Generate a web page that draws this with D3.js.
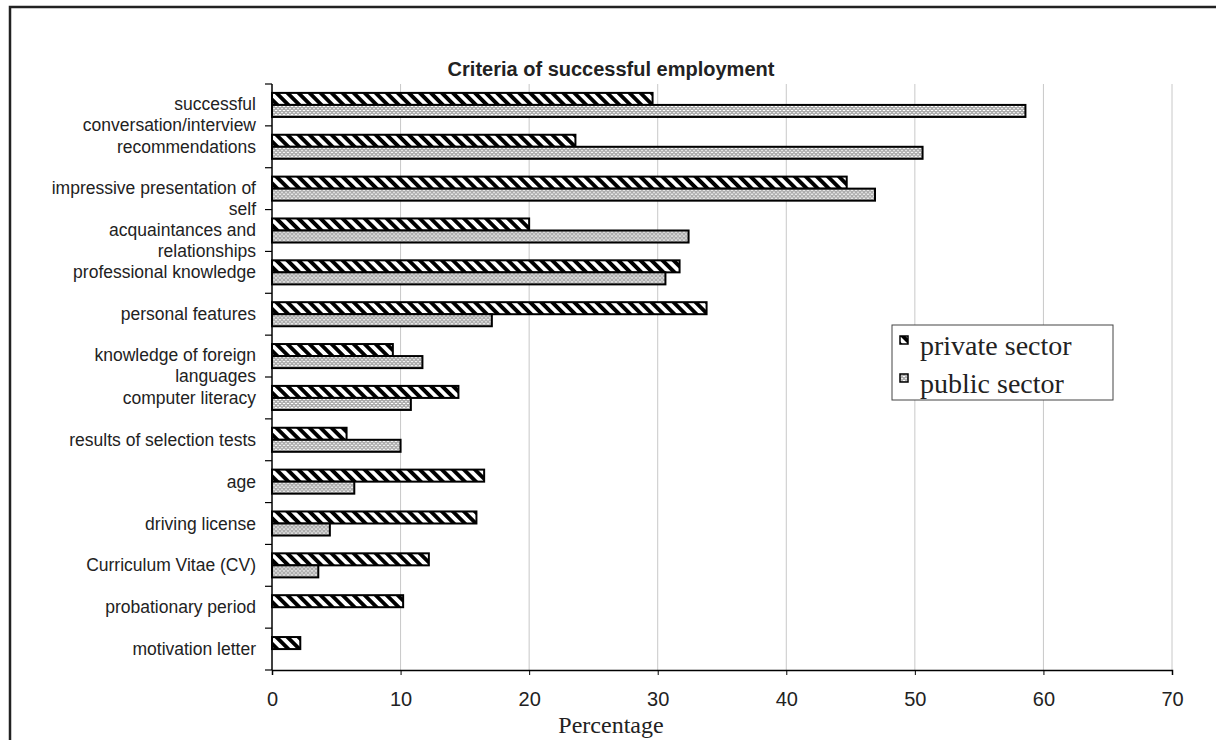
<!DOCTYPE html>
<html>
<head>
<meta charset="utf-8">
<script src="https://cdn.jsdelivr.net/npm/d3@7"></script>
<style>
  body { margin: 0; background: #fff; }
  text { font-family: "Liberation Sans", Arial, sans-serif; fill: #222; }
</style>
</head>
<body>
<div id="chart"></div>
<script>
// categories, top to bottom (\n = line break as in the original labels)
var categories = [
    "successful\nconversation/interview",
    "recommendations",
    "impressive presentation of\nself",
    "acquaintances and\nrelationships",
    "professional knowledge",
    "personal features",
    "knowledge of foreign\nlanguages",
    "computer literacy",
    "results of selection tests",
    "age",
    "driving license",
    "Curriculum Vitae (CV)",
    "probationary period",
    "motivation letter"
];

var series = ["private sector", "public sector"];

var privateValues = [29.6, 23.6, 44.7, 20.0, 31.7, 33.8, 9.4, 14.5, 5.8, 16.5, 15.9, 12.2, 10.2, 2.2];
var publicValues  = [58.6, 50.6, 46.9, 32.4, 30.6, 17.1, 11.7, 10.8, 10.0, 6.4, 4.5, 3.6, 0, 0];

var xTicks = [0, 10, 20, 30, 40, 50, 60, 70];

var W = 1216, H = 740;

var svg = d3.select("#chart")
    .append("svg")
    .attr("width", W)
    .attr("height", H);

// patterns
var defs = svg.append("defs");
var stripes = defs.append("pattern")
    .attr("id", "pat-private")
    .attr("patternUnits", "userSpaceOnUse")
    .attr("width", 7.8)
    .attr("height", 7.8)
    .attr("patternTransform", "rotate(-45)");
stripes.append("rect").attr("width", 7.8).attr("height", 7.8).attr("fill", "#fff");
stripes.append("rect").attr("width", 3.9).attr("height", 7.8).attr("fill", "#000");

var dots = defs.append("pattern")
    .attr("id", "pat-public")
    .attr("patternUnits", "userSpaceOnUse")
    .attr("width", 4)
    .attr("height", 4);
dots.append("rect").attr("width", 4).attr("height", 4).attr("fill", "#acacac");
dots.append("rect").attr("x", 1).attr("y", 0).attr("width", 2).attr("height", 1).attr("fill", "#e8e8e8");
dots.append("rect").attr("x", 0).attr("y", 2).attr("width", 1).attr("height", 1).attr("fill", "#fff");
dots.append("rect").attr("x", 3).attr("y", 2).attr("width", 1).attr("height", 1).attr("fill", "#fff");
dots.append("rect").attr("x", 1.5).attr("y", 1.5).attr("width", 1).attr("height", 1).attr("fill", "#dadada");

var fills = ["url(#pat-private)", "url(#pat-public)"];

// outer frame (runs off the right/bottom edge like the original)
svg.append("rect")
    .attr("x", 10).attr("y", 7)
    .attr("width", 1300).attr("height", 900)
    .attr("fill", "none")
    .attr("stroke", "#222")
    .attr("stroke-width", 2.5);

// title
svg.append("text")
    .attr("x", 611).attr("y", 76)
    .attr("text-anchor", "middle")
    .style("font-weight", "bold")
    .style("font-size", "20px")
    .text("Criteria of successful employment");

// scales
var x = d3.scaleLinear()
    .domain([0, 70])
    .range([272, 1172]);

var y = d3.scaleBand()
    .domain(categories)
    .range([84, 670]);

var y1 = d3.scaleBand()
    .domain(series)
    .range([0, y.bandwidth()])
    .paddingOuter(0.74);

// grid
svg.append("g")
    .selectAll("line")
    .data(xTicks.slice(1))
    .enter()
    .append("line")
    .attr("x1", function(d) { return x(d); })
    .attr("x2", function(d) { return x(d); })
    .attr("y1", 84)
    .attr("y2", 670)
    .attr("stroke", "#c8c8c8")
    .attr("stroke-width", 1);

// bars
var rows = categories.map(function(c, i) {
    return {cat: c, vals: [privateValues[i], publicValues[i]]};
});

var groups = svg.append("g")
    .selectAll("g")
    .data(rows)
    .enter()
    .append("g")
    .attr("transform", function(d) { return "translate(0," + y(d.cat) + ")"; });

groups.selectAll("rect")
    .data(function(d) {
        return d.vals.map(function(v, j) { return {s: series[j], v: v, j: j}; })
            .filter(function(e) { return e.v > 0; });
    })
    .enter()
    .append("rect")
    .attr("x", x(0))
    .attr("y", function(d) { return y1(d.s); })
    .attr("width", function(d) { return x(d.v) - x(0); })
    .attr("height", y1.bandwidth())
    .attr("fill", function(d) { return fills[d.j]; })
    .attr("stroke", "#000")
    .attr("stroke-width", 2);

// x axis
var xAxis = svg.append("g")
    .attr("transform", "translate(0,670)")
    .call(d3.axisBottom(x).tickValues(xTicks).tickSize(5).tickPadding(17));
xAxis.select(".domain").attr("stroke", "#000").attr("stroke-width", 1.5);
xAxis.selectAll(".tick line").attr("stroke", "#000");
xAxis.selectAll("text")
    .style("font-family", "'Liberation Sans', Arial, sans-serif")
    .style("font-size", "20px")
    .attr("fill", "#222");

// y axis line and boundary ticks
svg.append("line")
    .attr("x1", 272).attr("x2", 272)
    .attr("y1", 84).attr("y2", 670)
    .attr("stroke", "#000").attr("stroke-width", 1.5);

var bounds = categories.map(function(c) { return y(c); }).concat([670]);
svg.append("g")
    .selectAll("line")
    .data(bounds)
    .enter()
    .append("line")
    .attr("x1", 265).attr("x2", 272)
    .attr("y1", function(d) { return d; })
    .attr("y2", function(d) { return d; })
    .attr("stroke", "#000").attr("stroke-width", 1.2);

// category labels
var labels = svg.append("g")
    .selectAll("text")
    .data(categories)
    .enter()
    .append("text")
    .attr("text-anchor", "end")
    .style("font-size", "17.5px")
    .attr("y", function(d) { return y(d) + y.bandwidth() / 2; });

labels.each(function(d) {
    var lines = d.split("\n");
    var t = d3.select(this);
    lines.forEach(function(line, k) {
        t.append("tspan")
            .attr("x", 256)
            .attr("dy", k === 0 ? (lines.length > 1 ? "0.3em" : "0.35em") : "1.2em")
            .text(line);
    });
});

// x axis title
svg.append("text")
    .attr("x", 611).attr("y", 733)
    .attr("text-anchor", "middle")
    .style("font-family", "'Liberation Serif', 'Times New Roman', serif")
    .style("font-size", "24px")
    .text("Percentage");

// legend
var legend = svg.append("g").attr("transform", "translate(892,325)");
legend.append("rect")
    .attr("width", 221).attr("height", 75)
    .attr("fill", "#fff")
    .attr("stroke", "#444")
    .attr("stroke-width", 1);

var items = legend.selectAll("g")
    .data(series)
    .enter()
    .append("g")
    .attr("transform", function(d, i) { return "translate(8," + (11 + i * 38) + ")"; });

items.append("rect")
    .attr("width", 8).attr("height", 8)
    .attr("fill", function(d, i) { return fills[i]; })
    .attr("stroke", "#000").attr("stroke-width", 1.5);

items.append("text")
    .attr("x", 20).attr("y", 19)
    .style("font-family", "'Liberation Serif', 'Times New Roman', serif")
    .style("font-size", "28px")
    .text(function(d) { return d; });
</script>
</body>
</html>
